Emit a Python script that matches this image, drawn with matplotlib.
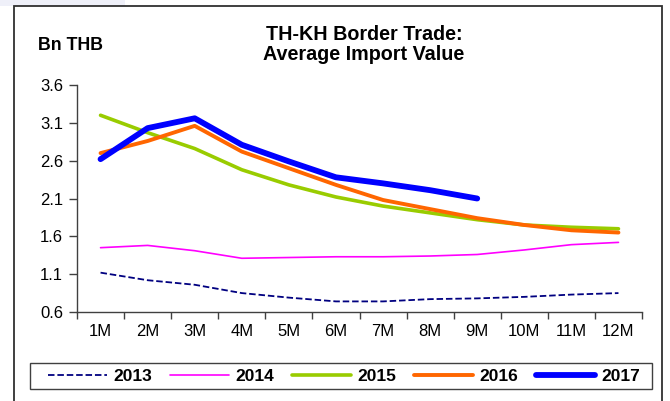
import matplotlib
matplotlib.use("Agg")
import matplotlib.pyplot as plt
from matplotlib.patches import Rectangle

plt.rcParams['font.family'] = ['Liberation Sans', 'DejaVu Sans']

months = ["1M", "2M", "3M", "4M", "5M", "6M", "7M", "8M", "9M", "10M", "11M", "12M"]

avg_2013 = [1.12, 1.02, 0.96, 0.85, 0.79, 0.74, 0.74, 0.77, 0.78, 0.80, 0.83, 0.85]
avg_2014 = [1.45, 1.48, 1.41, 1.31, 1.32, 1.33, 1.33, 1.34, 1.36, 1.42, 1.49, 1.52]
avg_2015 = [3.20, 2.97, 2.76, 2.48, 2.28, 2.12, 2.00, 1.91, 1.82, 1.75, 1.72, 1.70]
avg_2016 = [2.70, 2.86, 3.06, 2.72, 2.50, 2.28, 2.08, 1.96, 1.84, 1.75, 1.68, 1.65]
avg_2017 = [2.62, 3.03, 3.16, 2.81, 2.59, 2.38, 2.30, 2.21, 2.10]

y_ticks = [0.6, 1.1, 1.6, 2.1, 2.6, 3.1, 3.6]

W, H = 670, 401
fig = plt.figure(figsize=(W / 100, H / 100), dpi=100)

# outer frame (open at the bottom) and faint tint above it
fig.patches.append(Rectangle((0, 1 - 6 / H), 125 / W, 6 / H, transform=fig.transFigure,
                             facecolor="#eff0f9", edgecolor="none", zorder=0))
fig.patches.append(Rectangle((14 / W, -0.05), (662 - 14) / W, 1.05 - 6 / H,
                             transform=fig.transFigure, facecolor="none",
                             edgecolor="#303030", linewidth=1.3, zorder=1))

ax = fig.add_axes([77 / W, (H - 312) / H, (642 - 77) / W, (312 - 85) / H])
x = list(range(len(months)))

ax.plot(x, avg_2013, color="#000080", lw=1.3, dashes=(3.6, 1.6), label="2013")
ax.plot(x, avg_2014, color="#ff00ff", lw=1.2, solid_capstyle="round", label="2014")
ax.plot(x, avg_2015, color="#99cc00", lw=2.6, solid_capstyle="round", label="2015")
ax.plot(x, avg_2016, color="#ff6600", lw=2.8, solid_capstyle="round", label="2016")
ax.plot(x[:len(avg_2017)], avg_2017, color="#0000ff", lw=4.2,
        solid_capstyle="round", label="2017")

ax.set_xlim(-0.5, len(months) - 0.5)
ax.set_ylim(0.6, 3.6)
ax.set_yticks(y_ticks)
ax.set_yticklabels([f"{v:.1f}" for v in y_ticks])
ax.set_xticks(x)
ax.set_xticklabels(months)
ax.set_xticks([i - 0.5 for i in range(len(months) + 1)], minor=True)

ax.tick_params(axis="x", which="major", length=0, pad=9, labelsize=12)
ax.tick_params(axis="x", which="minor", length=5, width=1, color="#404040")
ax.tick_params(axis="y", length=6, width=1, color="#404040", pad=4, labelsize=12)

for side in ("top", "right"):
    ax.spines[side].set_visible(False)
for side in ("left", "bottom"):
    ax.spines[side].set_color("#404040")
    ax.spines[side].set_linewidth(1)

fig.text(364 / W, 1 - 35 / H, "TH-KH Border Trade:", ha="center", va="center",
         fontsize=14.2, fontweight="bold")
fig.text(364 / W, 1 - 55 / H, "Average Import Value", ha="center", va="center",
         fontsize=14.2, fontweight="bold")
fig.text(70 / W, 1 - 45 / H, "Bn THB", ha="center", va="center",
         fontsize=12.8, fontweight="bold")

# legend box drawn separately, entries laid out inside it
fig.patches.append(Rectangle((30 / W, 1 - 389 / H), (652 - 30) / W, 26 / H,
                             transform=fig.transFigure, facecolor="white",
                             edgecolor="#404040", linewidth=1, zorder=2))
leg = fig.legend(loc="center", ncol=5, frameon=False,
                 bbox_to_anchor=(344 / W, 1 - 376 / H),
                 handlelength=3.4, handletextpad=0.35, columnspacing=1.05,
                 borderpad=0, borderaxespad=0,
                 prop={"weight": "bold", "size": 12.5})
leg.set_zorder(3)

fig.savefig("out.png", dpi=100)
